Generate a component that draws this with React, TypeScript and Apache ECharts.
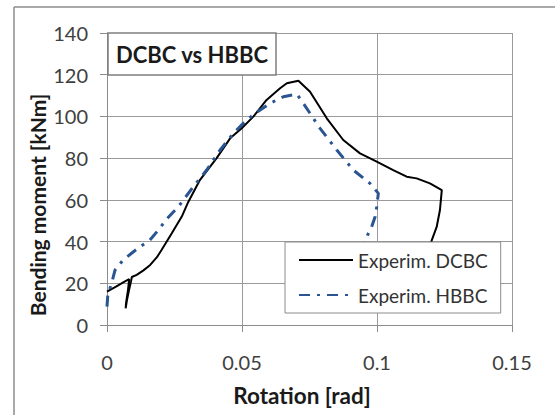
import React, { useEffect, useRef } from "react";
import * as echarts from "echarts";

const xTicks = [0, 0.05, 0.1, 0.15];
const yTicks = [0, 20, 40, 60, 80, 100, 120, 140];

const dcbcRotation = [
  0, 0.0035, 0.0065, 0.0082, 0.0078, 0.0071, 0.0069, 0.0074, 0.0082, 0.0089, 0.0092,
  0.011, 0.0135, 0.016, 0.0185, 0.0202, 0.024, 0.0277, 0.0301, 0.0344, 0.0406, 0.0456,
  0.0499, 0.0542, 0.0591, 0.0641, 0.0666, 0.0709, 0.0752, 0.0814, 0.0875, 0.0937,
  0.0999, 0.106, 0.111, 0.1147, 0.1196, 0.124, 0.1233, 0.1221, 0.1203, 0.119, 0.118,
];
const dcbcMoment = [
  16, 18.5, 20.8, 22, 17, 11, 8, 12, 17, 21, 23,
  24, 26.2, 28.8, 32.5, 36, 44, 52, 59, 69.5, 80, 89.5,
  94.3, 99.9, 107.9, 113.5, 115.9, 117.1, 111.8, 99.1, 88.7, 82.3,
  78.3, 74.3, 71.1, 70.3, 67.9, 64.7, 55, 47, 40.7, 35, 30,
];

const hbbcRotation = [
  0, 0.0003, 0.0017, 0.003, 0.006, 0.0091, 0.0122, 0.0159, 0.019, 0.0221, 0.0264,
  0.032, 0.0369, 0.0419, 0.0468, 0.0517, 0.0567, 0.0604, 0.0653, 0.0703, 0.0727,
  0.0789, 0.0851, 0.0912, 0.0974, 0.1005, 0.0999, 0.0993, 0.098, 0.0956, 0.094,
];
const hbbcMoment = [
  8.8, 14.4, 20, 26.4, 31.2, 34.4, 37.5, 40.7, 45.5, 50.8, 56.7,
  66.3, 74.3, 83.9, 91.9, 98.3, 103.1, 106.3, 109.4, 110.7, 106.3,
  94.3, 83.9, 74.3, 67.9, 63.1, 56.7, 51.9, 47, 40.7, 35,
];

const zip = (xs: number[], ys: number[]) => xs.map((x, i) => [x, ys[i]]);

const FONT = "Lato";

export default function App() {
  const ref = useRef<HTMLDivElement>(null);
  useEffect(() => {
    if (!ref.current) return;
    const chart = echarts.init(ref.current, null, { renderer: "svg" });
    chart.setOption({
      animation: false,
      backgroundColor: "#ffffff",
      textStyle: { fontFamily: FONT },
      grid: { left: 107, top: 33, right: 43, bottom: 90, containLabel: false },
      title: {
        text: "DCBC vs HBBC",
        left: 108,
        top: 33,
        padding: [8, 8],
        borderColor: "#7f7f7f",
        borderWidth: 1.5,
        backgroundColor: "#ffffff",
        textStyle: {
          fontFamily: FONT,
          fontSize: 22,
          fontWeight: "bold",
          color: "#1a1a1a",
          lineHeight: 26,
        },
      },
      legend: {
        orient: "vertical",
        left: 285,
        top: 242,
        padding: [7, 13, 7, 13],
        itemWidth: 54,
        itemHeight: 14,
        itemGap: 13,
        borderColor: "#8c8c8c",
        borderWidth: 1,
        backgroundColor: "#ffffff",
        itemStyle: { opacity: 0 },
        textStyle: { fontFamily: FONT, fontSize: 19, color: "#333333", lineHeight: 22 },
        data: ["Experim. DCBC", "Experim. HBBC"],
      },
      xAxis: {
        type: "value",
        min: 0,
        max: 0.15,
        interval: 0.05,
        axisLine: { show: true, onZero: false, lineStyle: { color: "#8c8c8c", width: 1 } },
        axisTick: { show: true, length: 7, lineStyle: { color: "#8c8c8c" } },
        axisLabel: {
          margin: 27,
          fontFamily: FONT,
          fontSize: 20,
          color: "#404040",
          formatter: (v: number) => String(xTicks.find((t) => Math.abs(t - v) < 1e-9) ?? v),
        },
        splitLine: { show: true, lineStyle: { color: "#9a9a9a", width: 1 } },
      },
      yAxis: {
        type: "value",
        min: 0,
        max: 140,
        interval: 20,
        axisLine: { show: true, onZero: false, lineStyle: { color: "#8c8c8c", width: 1 } },
        axisTick: { show: true, length: 7, lineStyle: { color: "#8c8c8c" } },
        axisLabel: {
          margin: 19,
          fontFamily: FONT,
          fontSize: 20,
          color: "#404040",
          formatter: (v: number) => String(yTicks.find((t) => t === v) ?? v),
        },
        splitLine: { show: true, lineStyle: { color: "#9a9a9a", width: 1 } },
      },
      graphic: [
        {
          type: "line",
          shape: { x1: 14, y1: 7, x2: 560, y2: 7 },
          style: { stroke: "#8c8c8c", lineWidth: 1.5 },
          z: 0,
        },
        {
          type: "line",
          shape: { x1: 14, y1: 7, x2: 14, y2: 420 },
          style: { stroke: "#8c8c8c", lineWidth: 1.5 },
          z: 0,
        },
        {
          type: "text",
          x: 302,
          y: 395,
          style: {
            text: "Rotation [rad]",
            fontFamily: FONT,
            fontSize: 22.5,
            fontWeight: "bold",
            fill: "#1a1a1a",
            align: "center",
            verticalAlign: "middle",
          },
        },
        {
          type: "text",
          x: 37,
          y: 205,
          rotation: Math.PI / 2,
          style: {
            text: "Bending moment [kNm]",
            fontFamily: FONT,
            fontSize: 21,
            fontWeight: "bold",
            fill: "#1a1a1a",
            align: "center",
            verticalAlign: "middle",
          },
        },
      ],
      series: [
        {
          name: "Experim. DCBC",
          type: "line",
          data: zip(dcbcRotation, dcbcMoment),
          showSymbol: false,
          symbol: "none",
          lineStyle: { color: "#000000", width: 2 },
          itemStyle: { color: "#000000" },
          z: 2,
        },
        {
          name: "Experim. HBBC",
          type: "line",
          data: zip(hbbcRotation, hbbcMoment),
          showSymbol: false,
          symbol: "none",
          lineStyle: { color: "#2a5592", width: 3, type: [11, 7, 3, 7] },
          itemStyle: { color: "#2a5592" },
          z: 3,
        },
      ],
    });
    return () => chart.dispose();
  }, []);
  return (
    <div
      ref={ref}
      style={{ position: "fixed", left: 0, top: 0, width: 555, height: 415 }}
    />
  );
}
